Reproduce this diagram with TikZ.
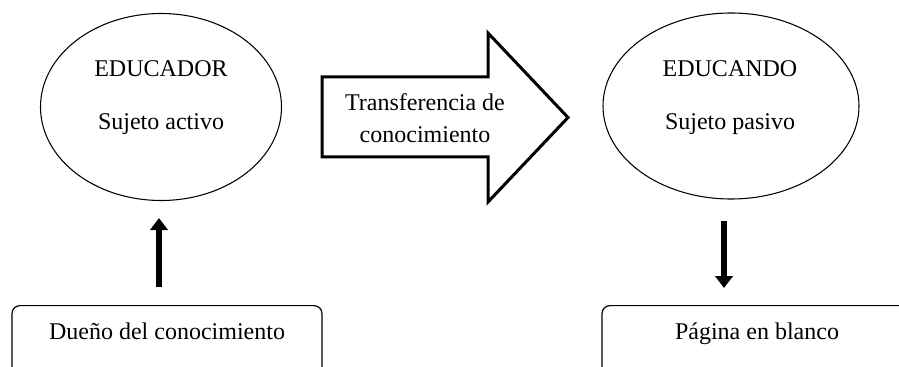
\documentclass[tikz,border=0pt]{standalone}
\usepackage{fontspec}
\setmainfont{Liberation Serif}
\usetikzlibrary{arrows.meta,shapes.geometric}
\tikzset{
  elipse/.style={draw,ellipse,line width=.8pt,inner sep=0pt},
  rotulo/.style={align=center,font=\fontsize{18}{39.75}\selectfont},
  caja/.style={draw,rounded corners=6pt,line width=.9pt,anchor=north,minimum width=232.5pt,
    inner ysep=0pt,text height=25.5pt,text depth=75pt,font=\fontsize{18}{21.6}\selectfont},
  flecha/.style={line width=4.5pt,-{Triangle[width=13pt,length=9pt]}}
}
\begin{document}
\begin{tikzpicture}[x=.75pt,y=-.75pt]
\useasboundingbox (0,0) rectangle (899,367);
\clip (0,0) rectangle (899,367);
\node[elipse,minimum width=180.75pt,minimum height=140.25pt] (educador) at (161,107) {};
\node[rotulo] (txtEducador) at (161,98) {EDUCADOR\\Sujeto activo};
\node[elipse,minimum width=192pt,minimum height=139.5pt] (educando) at (731,106) {};
\node[rotulo] (txtEducando) at (730,98) {EDUCANDO\\Sujeto pasivo};
\draw[line width=2.25pt,line join=miter] (322,77) -- (488,77) -- (488,33) -- (568,117.5) -- (488,202) -- (488,157) -- (322,157) -- cycle;
\node[rotulo,font=\fontsize{18}{24}\selectfont] (transferencia) at (425,118) {Transferencia de\\conocimiento};
\node[caja] (dueno) at (167,305) {Dueño del conocimiento};
\node[caja] (pagina) at (757,305) {Página en blanco};
\draw[flecha,shorten <=13.5pt,shorten >=12.75pt] ([xshift=-6pt]dueno.north) -- ([xshift=-1.5pt]educador.south);
\draw[flecha,shorten <=15.75pt,shorten >=12.75pt] ([xshift=-5.25pt]educando.south) -- ([xshift=-24.75pt]pagina.north);
\end{tikzpicture}
\end{document}
